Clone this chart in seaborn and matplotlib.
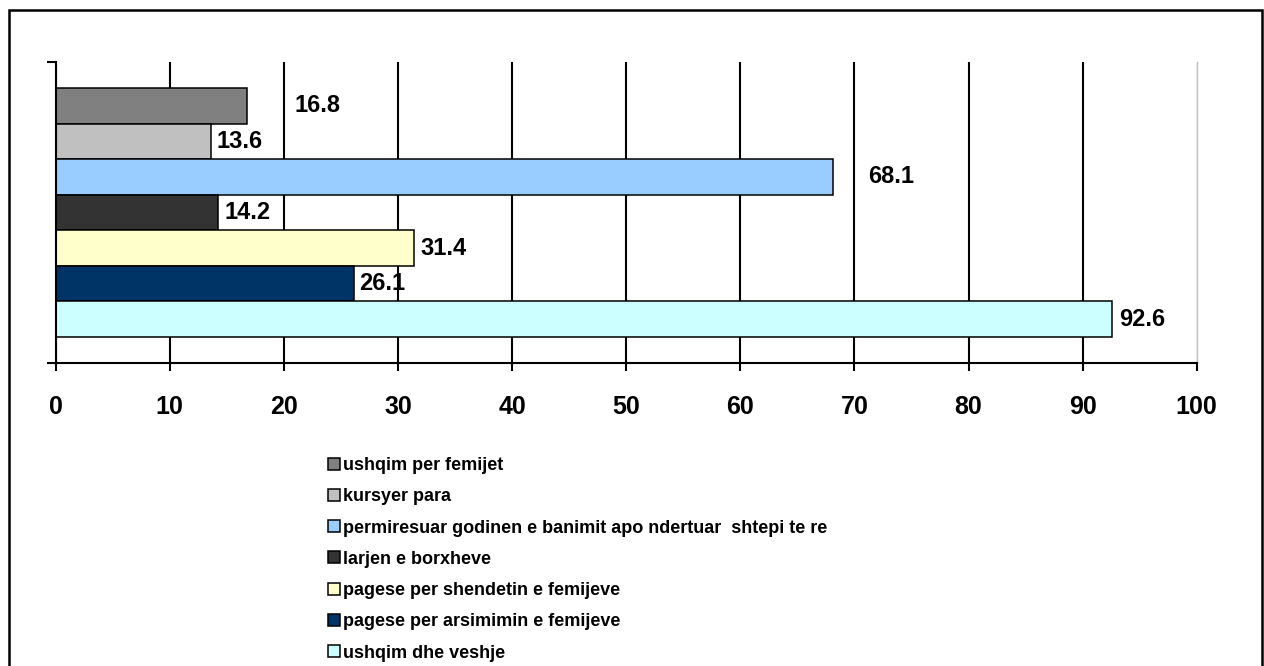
import matplotlib
matplotlib.use("Agg")
import matplotlib.pyplot as plt
import matplotlib.patches as mpatches
import seaborn as sns
import pandas as pd

categories = [
    "ushqim per femijet",
    "kursyer para",
    "permiresuar godinen e banimit apo ndertuar  shtepi te re",
    "larjen e borxheve",
    "pagese per shendetin e femijeve",
    "pagese per arsimimin e femijeve",
    "ushqim dhe veshje",
]
values = [16.8, 13.6, 68.1, 14.2, 31.4, 26.1, 92.6]
colors = ["#808080", "#C0C0C0", "#99CCFF", "#333333", "#FFFFCC", "#003366", "#CCFFFF"]
xticks = [0, 10, 20, 30, 40, 50, 60, 70, 80, 90, 100]

# label shifts (pixels right of bar end), a few were moved by hand in the original
label_shift = [47, 6, 35, 7, 6, 6, 7]

sns.set_style("white")
plt.rcParams["font.family"] = ["Liberation Sans", "DejaVu Sans"]
plt.rcParams["font.weight"] = "bold"
plt.rcParams["text.color"] = "black"
plt.rcParams["xtick.color"] = "black"
plt.rcParams["ytick.color"] = "black"

df = pd.DataFrame({"cat": categories, "val": values})

fig = plt.figure(figsize=(12.64, 6.66), dpi=100)
ax = fig.add_axes([55.7 / 1264, 1 - 363 / 666, 1141 / 1264, 301 / 666])

sns.barplot(data=df, y="cat", x="val", hue="cat", palette=colors, orient="h",
            width=1.0, dodge=False, legend=False, edgecolor="black",
            linewidth=1.1, saturation=1, ax=ax)

ax.set_xlim(0, 100)
ax.set_ylim(7.235, -1.235)
ax.set_xticks(xticks)
ax.set_xticklabels([str(t) for t in xticks], fontsize=18, fontweight="bold", color="black")
ax.set_yticks([7.235, -1.235])
ax.set_yticklabels(["", ""])
ax.set_xlabel("")
ax.set_ylabel("")
ax.tick_params(axis="x", bottom=True, direction="out", length=6, width=1.5, color="black", pad=17)
ax.tick_params(axis="y", left=True, direction="out", length=6.5, width=1.5, color="black")

ax.set_axisbelow(True)
ax.xaxis.grid(True, color="black", linewidth=1.5)
ax.get_xgridlines()[-1].set_color("#C0C0C0")
ax.get_xgridlines()[-1].set_linewidth(1.0)

ax.spines["top"].set_visible(False)
ax.spines["right"].set_color("#C0C0C0")
ax.spines["right"].set_linewidth(1.0)
ax.spines["left"].set_linewidth(1.5)
ax.spines["bottom"].set_linewidth(1.5)
ax.spines["left"].set_color("black")
ax.spines["bottom"].set_color("black")

for i, v in enumerate(values):
    ax.annotate(f"{v:.1f}", xy=(v, i), xytext=(label_shift[i] * 0.72, 0),
                textcoords="offset points", ha="left", va="center",
                fontsize=17, fontweight="bold", color="black")

handles = [mpatches.Patch(facecolor=c, edgecolor="black", linewidth=1.1) for c in colors]
fig.legend(handles, categories, loc="upper left", bbox_to_anchor=(328 / 1264, 1 - 457 / 666),
           frameon=False, prop={"size": 13, "weight": "bold"}, handlelength=0.65,
           handleheight=0.65, handletextpad=0.2, labelspacing=0.79, borderpad=0,
           borderaxespad=0, labelcolor="black")

fig.patches.append(mpatches.Rectangle((9 / 1264, -0.05), 1253 / 1264, 1.05 - 10 / 666,
                                      transform=fig.transFigure, fill=False,
                                      edgecolor="black", linewidth=1.8))

fig.savefig("out.png", dpi=100)
